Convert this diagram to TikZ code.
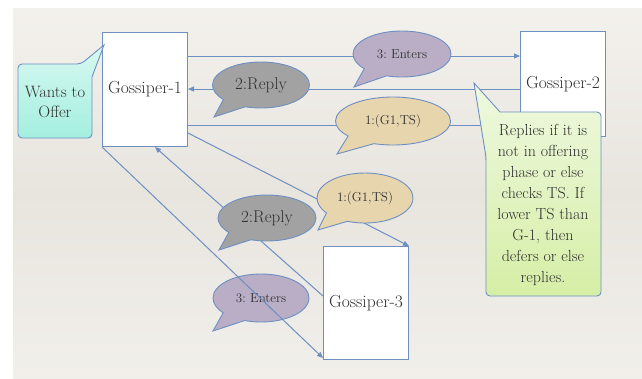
\documentclass[tikz,border=0pt]{standalone}
\usetikzlibrary{arrows.meta,shapes.callouts,calc}
\definecolor{edge}{HTML}{6E8FC2}
\definecolor{ink}{HTML}{303030}
\definecolor{paperTop}{HTML}{F3F1EC}
\definecolor{paperMid}{HTML}{E8E5DF}
\definecolor{paperBot}{HTML}{F1EFEA}
\definecolor{enterFill}{HTML}{B9AEC5}
\definecolor{replyFill}{HTML}{A2A2A2}
\definecolor{askFill}{HTML}{E7D5AE}
\definecolor{cyanTop}{HTML}{D8F8F1}
\definecolor{cyanBot}{HTML}{A4EFDF}
\definecolor{limeTop}{HTML}{EEF9E0}
\definecolor{limeBot}{HTML}{D6EEA6}
\frenchspacing
\begin{document}
\begin{tikzpicture}[x=1pt,y=-1pt,
  gbox/.style={draw=edge, line width=1pt, fill=white, minimum width=85pt,
    inner sep=0pt, anchor=north west, text=ink,
    font=\fontsize{17.5}{20}\selectfont},
  link/.style={draw=edge, line width=1pt, -{Triangle[length=6pt,width=5pt]}},
  bubble/.style={ellipse callout, draw=edge, line width=0.9pt, text=ink,
    inner sep=0pt, callout pointer arc=32},
  small/.style={font=\fontsize{13}{15}\selectfont},
  big/.style={font=\fontsize{17}{19}\selectfont},
  note/.style={draw=edge, line width=0.9pt},
  notetext/.style={align=center, text=ink, inner sep=0pt}
]
\useasboundingbox (0,0) rectangle (642,378);
% paper
\shade[top color=paperTop, bottom color=paperBot, middle color=paperMid]
  (13,8) rectangle (642,378);

% gossiper boxes
\node[gbox, minimum height=114pt] (g1) at (102,32) {Gossiper-1};
\node[gbox, minimum height=105pt] (g2) at (520,31) {Gossiper-2};
\node[gbox, minimum height=113pt] (g3) at (323,246) {Gossiper-3};

% messages
\draw[link] ($(g1.north east)+(0,24)$) -- ($(g2.north west)+(0,25)$);
\draw[link] ($(g2.north west)+(0,58)$) -- ($(g1.north east)+(0,57)$);
\draw[link] ($(g1.north east)+(0,93)$) -- ($(g2.north west)+(0,94)$);
\draw[link] ($(g1.north east)+(0,101)$) -- (g3.north east);
\draw[link] ($(g3.north west)+(0,50)$) -- ($(g1.south west)+(53,0)$);

% message labels
\node[bubble, small, fill=enterFill, minimum width=98pt, minimum height=46pt,
  callout absolute pointer={(354,87)}] (e1) at (402,54) {3: Enters};
\node[bubble, big, fill=replyFill, minimum width=97pt, minimum height=46pt,
  callout absolute pointer={(214,117)}] (r1) at (261,85) {2:Reply};
\node[bubble, small, fill=askFill, minimum width=115pt, minimum height=48pt,
  callout absolute pointer={(337,154)}] (a1) at (393,121) {1:(G1,TS)};
\node[bubble, small, fill=askFill, minimum width=96pt, minimum height=50pt,
  callout absolute pointer={(318,230)}] (a2) at (365,198) {1:(G1,TS)};
\node[bubble, big, fill=replyFill, minimum width=98pt, minimum height=46pt,
  callout absolute pointer={(219,250)}] (r2) at (267,218) {2:Reply};
\node[bubble, small, fill=enterFill, minimum width=96pt, minimum height=48pt,
  callout absolute pointer={(213,331)}] (e2) at (261,298) {3: Enters};

% this message runs over its label
\draw[link] (g1.south west) -- ($(g3.south west)+(0,-2)$);

% side notes
\shade[note, top color=cyanTop, bottom color=cyanBot]
  [rounded corners=4pt] (18,100) -- (18,64) -- (81,64)
  [sharp corners] -- (104,45) -- (92,77)
  [rounded corners=4pt] -- (92,138) -- (18,138) -- cycle;
\node[notetext, font=\fontsize{16.5}{20}\selectfont] (offer) at (55,102)
  {Wants to\\Offer};

\shade[note, top color=limeTop, bottom color=limeBot]
  [rounded corners=4pt] (500,112) -- (601,112) -- (601,296) -- (486,296)
  -- (486,157) [sharp corners] -- (474,83) -- cycle;
\node[notetext, font=\fontsize{16}{21}\selectfont] (cond) at (543,205)
  {Replies if it is\\not in offering\\phase or else\\checks TS. If\\lower TS than\\G-1, then\\defers or else\\replies.};
\end{tikzpicture}
\end{document}
